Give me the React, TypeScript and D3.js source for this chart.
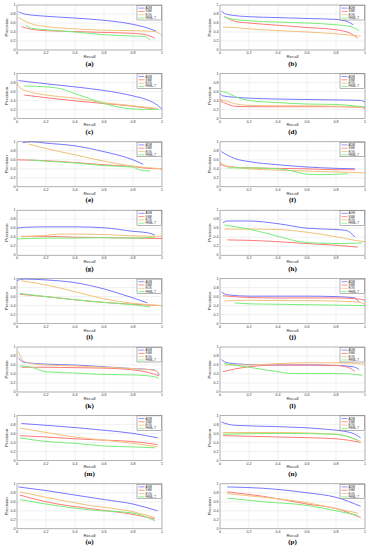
import React from 'react'
import * as d3 from 'd3'

type Pt = [number, number]

// legend / series
const methods = ['ADM', 'SSM', 'EOS', 'FEML-T']
const colors = ['#7878ff', '#ff7a7a', '#f2c27c', '#78ee78']
const captions = ['(a)', '(b)', '(c)', '(d)', '(e)', '(f)', '(g)', '(h)', '(i)', '(j)', '(k)', '(l)', '(m)', '(n)', '(o)', '(p)']
const ticks = [0, 0.2, 0.4, 0.6, 0.8, 1]

// each panel: [ADM, SSM, EOS, FEML-T] as [recall, precision]
const panelA: Pt[][] = [
  [[0.01, 0.85], [0.05, 0.8], [0.2, 0.75], [0.4, 0.71], [0.6, 0.66], [0.8, 0.57], [0.9, 0.49], [0.96, 0.42]],
  [[0.03, 0.52], [0.1, 0.46], [0.2, 0.43], [0.4, 0.41], [0.6, 0.39], [0.8, 0.37], [0.9, 0.33], [0.95, 0.26]],
  [[0.01, 0.72], [0.1, 0.58], [0.2, 0.52], [0.4, 0.47], [0.6, 0.44], [0.8, 0.43], [0.95, 0.41], [1, 0.32]],
  [[0.06, 0.55], [0.1, 0.48], [0.2, 0.45], [0.4, 0.4], [0.6, 0.34], [0.8, 0.31], [0.88, 0.3], [0.92, 0.22]],
]
const panelB: Pt[][] = [
  [[0.01, 0.86], [0.05, 0.79], [0.2, 0.74], [0.4, 0.72], [0.6, 0.7], [0.8, 0.68], [0.88, 0.63], [0.92, 0.56]],
  [[0.03, 0.75], [0.1, 0.64], [0.2, 0.6], [0.4, 0.55], [0.6, 0.5], [0.8, 0.45], [0.9, 0.37], [0.95, 0.26]],
  [[0.02, 0.51], [0.1, 0.5], [0.2, 0.47], [0.4, 0.43], [0.6, 0.4], [0.8, 0.36], [0.9, 0.33], [0.97, 0.31]],
  [[0.03, 0.73], [0.1, 0.68], [0.2, 0.65], [0.4, 0.62], [0.6, 0.6], [0.8, 0.56], [0.9, 0.52], [0.96, 0.43]],
]
const panelC: Pt[][] = [
  [[0.01, 0.84], [0.2, 0.77], [0.4, 0.7], [0.6, 0.62], [0.8, 0.5], [0.9, 0.41], [0.97, 0.29], [1, 0.2]],
  [[0.05, 0.52], [0.2, 0.46], [0.4, 0.39], [0.6, 0.33], [0.8, 0.27], [0.95, 0.21]],
  [[0.0, 0.78], [0.02, 0.68], [0.1, 0.58], [0.2, 0.52], [0.4, 0.45], [0.6, 0.35], [0.8, 0.28], [0.97, 0.22]],
  [[0.05, 0.72], [0.2, 0.7], [0.3, 0.66], [0.4, 0.55], [0.5, 0.44], [0.6, 0.33], [0.7, 0.25], [0.8, 0.21], [0.9, 0.2], [0.98, 0.2]],
]
const panelD: Pt[][] = [
  [[0.0, 0.55], [0.02, 0.5], [0.1, 0.47], [0.2, 0.45], [0.4, 0.43], [0.6, 0.42], [0.8, 0.41], [0.97, 0.4], [1, 0.36]],
  [[0.0, 0.39], [0.05, 0.32], [0.1, 0.27], [0.2, 0.26], [0.4, 0.26], [0.6, 0.26], [0.8, 0.26], [0.95, 0.25], [1, 0.24]],
  [[0.0, 0.42], [0.05, 0.38], [0.1, 0.33], [0.2, 0.29], [0.4, 0.28], [0.6, 0.28], [0.8, 0.27], [0.95, 0.26], [1, 0.22]],
  [[0.0, 0.6], [0.05, 0.57], [0.1, 0.49], [0.2, 0.4], [0.4, 0.35], [0.6, 0.32], [0.8, 0.31], [0.95, 0.27], [1, 0.25]],
]
const panelE: Pt[][] = [
  [[0.04, 0.98], [0.1, 1.0], [0.2, 0.97], [0.4, 0.91], [0.6, 0.78], [0.8, 0.6], [0.87, 0.5]],
  [[0.0, 0.6], [0.2, 0.58], [0.4, 0.54], [0.6, 0.49], [0.8, 0.45], [0.9, 0.41], [1, 0.4]],
  [[0.08, 0.95], [0.2, 0.85], [0.4, 0.71], [0.6, 0.57], [0.8, 0.46], [1, 0.4]],
  [[0.08, 0.6], [0.2, 0.57], [0.4, 0.53], [0.6, 0.47], [0.8, 0.44], [0.84, 0.38], [0.92, 0.35]],
]
const panelF: Pt[][] = [
  [[0.01, 0.78], [0.1, 0.63], [0.2, 0.56], [0.4, 0.49], [0.6, 0.44], [0.8, 0.41], [0.93, 0.4]],
  [[0.0, 0.5], [0.05, 0.45], [0.2, 0.42], [0.4, 0.41], [0.6, 0.4], [0.8, 0.38], [0.93, 0.38]],
  [[0.0, 0.55], [0.05, 0.46], [0.2, 0.4], [0.4, 0.37], [0.6, 0.35], [0.8, 0.33], [1, 0.31]],
  [[0.05, 0.42], [0.2, 0.42], [0.4, 0.4], [0.5, 0.35], [0.6, 0.28], [0.7, 0.27], [0.88, 0.29]],
]
const panelG: Pt[][] = [
  [[0.0, 0.6], [0.05, 0.62], [0.2, 0.63], [0.4, 0.63], [0.6, 0.61], [0.8, 0.53], [0.9, 0.5], [0.95, 0.45]],
  [[0.03, 0.42], [0.2, 0.42], [0.4, 0.4], [0.6, 0.39], [0.8, 0.38], [1, 0.37]],
  [[0.03, 0.41], [0.2, 0.44], [0.3, 0.47], [0.6, 0.46], [0.8, 0.43], [1, 0.42]],
  [[0.0, 0.36], [0.2, 0.38], [0.4, 0.38], [0.6, 0.39], [0.8, 0.38], [0.95, 0.4]],
]
const panelH: Pt[][] = [
  [[0.02, 0.72], [0.05, 0.76], [0.2, 0.76], [0.4, 0.7], [0.6, 0.6], [0.8, 0.57], [0.87, 0.55], [0.9, 0.5], [0.93, 0.4]],
  [[0.05, 0.34], [0.2, 0.33], [0.4, 0.3], [0.6, 0.26], [0.8, 0.22], [0.95, 0.18]],
  [[0.03, 0.58], [0.2, 0.58], [0.4, 0.57], [0.6, 0.51], [0.8, 0.41], [0.95, 0.32], [1, 0.3]],
  [[0.03, 0.67], [0.2, 0.58], [0.4, 0.42], [0.55, 0.3], [0.6, 0.28], [0.8, 0.26], [0.98, 0.27]],
]
const panelI: Pt[][] = [
  [[0.0, 0.96], [0.05, 0.99], [0.2, 0.97], [0.4, 0.91], [0.6, 0.77], [0.8, 0.57], [0.9, 0.46]],
  [[0.02, 0.65], [0.2, 0.6], [0.4, 0.53], [0.6, 0.47], [0.8, 0.43], [1, 0.4]],
  [[0.03, 0.95], [0.2, 0.86], [0.4, 0.71], [0.6, 0.55], [0.8, 0.45], [1, 0.4]],
  [[0.02, 0.67], [0.2, 0.6], [0.4, 0.53], [0.6, 0.47], [0.8, 0.42], [0.92, 0.37]],
]
const panelJ: Pt[][] = [
  [[0.01, 0.7], [0.05, 0.64], [0.2, 0.61], [0.4, 0.61], [0.6, 0.61], [0.8, 0.6], [0.93, 0.57], [0.96, 0.47]],
  [[0.02, 0.62], [0.2, 0.58], [0.4, 0.57], [0.6, 0.57], [0.8, 0.57], [0.95, 0.55], [1, 0.52]],
  [[0.03, 0.5], [0.2, 0.52], [0.4, 0.51], [0.6, 0.51], [0.8, 0.5], [0.95, 0.48], [1, 0.43]],
  [[0.1, 0.46], [0.2, 0.44], [0.4, 0.43], [0.6, 0.42], [0.8, 0.41], [1, 0.4]],
]
const panelK: Pt[][] = [
  [[0.01, 0.75], [0.05, 0.66], [0.2, 0.62], [0.4, 0.6], [0.6, 0.56], [0.8, 0.52], [0.95, 0.49], [0.98, 0.38]],
  [[0.03, 0.55], [0.2, 0.55], [0.4, 0.54], [0.6, 0.53], [0.8, 0.49], [0.9, 0.44], [0.98, 0.36]],
  [[0.01, 0.9], [0.04, 0.7], [0.1, 0.63], [0.2, 0.6], [0.4, 0.58], [0.6, 0.55], [0.8, 0.52], [0.95, 0.48], [0.98, 0.4]],
  [[0.02, 0.58], [0.1, 0.55], [0.2, 0.45], [0.4, 0.42], [0.6, 0.39], [0.8, 0.38], [0.95, 0.34], [0.98, 0.3]],
]
const panelL: Pt[][] = [
  [[0.01, 0.72], [0.05, 0.65], [0.2, 0.61], [0.4, 0.6], [0.6, 0.6], [0.8, 0.59], [0.92, 0.56], [0.96, 0.5]],
  [[0.02, 0.45], [0.1, 0.51], [0.2, 0.56], [0.4, 0.6], [0.6, 0.6], [0.8, 0.59], [0.88, 0.55], [0.93, 0.46]],
  [[0.03, 0.6], [0.2, 0.6], [0.4, 0.63], [0.6, 0.65], [0.8, 0.65], [1, 0.62]],
  [[0.03, 0.63], [0.2, 0.55], [0.4, 0.45], [0.5, 0.41], [0.6, 0.41], [0.8, 0.41], [0.9, 0.4], [0.98, 0.37]],
]
const panelM: Pt[][] = [
  [[0.03, 0.82], [0.2, 0.78], [0.4, 0.73], [0.6, 0.67], [0.8, 0.6], [0.97, 0.5]],
  [[0.02, 0.55], [0.2, 0.52], [0.4, 0.48], [0.6, 0.45], [0.8, 0.42], [0.97, 0.35]],
  [[0.02, 0.72], [0.2, 0.62], [0.4, 0.52], [0.6, 0.45], [0.8, 0.38], [0.97, 0.3]],
  [[0.02, 0.5], [0.2, 0.42], [0.4, 0.38], [0.6, 0.32], [0.8, 0.3], [0.95, 0.28]],
]
const panelN: Pt[][] = [
  [[0.01, 0.85], [0.1, 0.78], [0.4, 0.75], [0.7, 0.7], [0.9, 0.62], [0.97, 0.5]],
  [[0.02, 0.55], [0.4, 0.52], [0.8, 0.48], [0.97, 0.4]],
  [[0.02, 0.62], [0.4, 0.62], [0.8, 0.58], [0.97, 0.42]],
  [[0.02, 0.58], [0.4, 0.6], [0.8, 0.58], [0.95, 0.45]],
]
const panelO: Pt[][] = [
  [[0.01, 0.93], [0.2, 0.85], [0.4, 0.75], [0.6, 0.65], [0.8, 0.55], [0.97, 0.4]],
  [[0.02, 0.75], [0.2, 0.6], [0.5, 0.45], [0.8, 0.32], [0.95, 0.22]],
  [[0.02, 0.82], [0.2, 0.7], [0.5, 0.52], [0.8, 0.38], [0.95, 0.25]],
  [[0.02, 0.65], [0.2, 0.55], [0.5, 0.42], [0.8, 0.35], [0.95, 0.18]],
]
const panelP: Pt[][] = [
  [[0.05, 0.93], [0.3, 0.9], [0.6, 0.8], [0.8, 0.7], [0.97, 0.5]],
  [[0.05, 0.82], [0.3, 0.72], [0.6, 0.55], [0.8, 0.45], [0.97, 0.25]],
  [[0.05, 0.78], [0.3, 0.7], [0.6, 0.58], [0.8, 0.45], [0.95, 0.35]],
  [[0.05, 0.68], [0.3, 0.6], [0.6, 0.52], [0.8, 0.4], [0.95, 0.3]],
]

const panels = [panelA, panelB, panelC, panelD, panelE, panelF, panelG, panelH,
  panelI, panelJ, panelK, panelL, panelM, panelN, panelO, panelP]

// layout
const width = 370
const height = 550
const colX = [17, 220]
const plotW = 145
const plotH = 45
const rowTop = (r: number) => 5 + r * 68.4

const fmt = (v: number) => (v === 0 || v === 1 ? String(v) : String(v))

const Panel = ({ data, caption, x0, y0 }: { data: Pt[][]; caption: string; x0: number; y0: number }) => {
  const xScale = d3.scaleLinear().domain([0, 1]).range([x0, x0 + plotW])
  const yScale = d3.scaleLinear().domain([0, 1]).range([y0 + plotH, y0])
  const line = d3
    .line<Pt>()
    .x((d) => xScale(d[0]))
    .y((d) => yScale(d[1]))
    .curve(d3.curveMonotoneX)

  const lx = x0 + plotW - 25
  const ly = y0 + 0.5
  return (
    <g>
      <rect x={x0} y={y0} width={plotW} height={plotH} fill="#fff" />
      {/* grid */}
      {ticks.map((t) => (
        <g key={'g' + t}>
          <line x1={xScale(t)} x2={xScale(t)} y1={y0} y2={y0 + plotH} stroke="#e2e2e2" strokeWidth={0.5} />
          <line x1={x0} x2={x0 + plotW} y1={yScale(t)} y2={yScale(t)} stroke="#e2e2e2" strokeWidth={0.5} />
        </g>
      ))}
      {data.map((s, i) => (
        <path key={i} d={line(s) || ''} fill="none" stroke={colors[i]} strokeWidth={1} />
      ))}
      <rect x={x0} y={y0} width={plotW} height={plotH} fill="none" stroke="#777" strokeWidth={0.5} />
      {/* tick labels */}
      {ticks.map((t) => (
        <text key={'x' + t} x={xScale(t)} y={y0 + plotH + 4.2} fontSize={3.6} textAnchor="middle" fill="#333"
          fontFamily="Liberation Sans, Arial, sans-serif">{fmt(t)}</text>
      ))}
      {ticks.map((t) => (
        <text key={'y' + t} x={x0 - 1.5} y={yScale(t) + 1.2} fontSize={3.6} textAnchor="end" fill="#333"
          fontFamily="Liberation Sans, Arial, sans-serif">{fmt(t)}</text>
      ))}
      <text x={x0 + plotW / 2} y={y0 + plotH + 8} fontSize={4.4} textAnchor="middle" fill="#333"
        fontFamily="Liberation Sans, Arial, sans-serif">Recall</text>
      <text transform={`translate(${x0 - 9.5}, ${y0 + plotH / 2}) rotate(-90)`} fontSize={4.4} textAnchor="middle" fill="#333"
        fontFamily="Liberation Sans, Arial, sans-serif">Precision</text>
      <text x={x0 + plotW / 2} y={y0 + plotH + 15.5} fontSize={7} fontWeight="bold" textAnchor="middle" fill="#000"
        fontFamily="Liberation Serif, Times New Roman, serif">{caption}</text>
      {/* legend */}
      <rect x={lx} y={ly} width={24.5} height={14.5} fill="#fff" stroke="#444" strokeWidth={0.4} />
      {methods.map((m, i) => (
        <g key={m}>
          <line x1={lx + 1.5} x2={lx + 7.5} y1={ly + 2.6 + i * 3.3} y2={ly + 2.6 + i * 3.3} stroke={colors[i]} strokeWidth={0.8} />
          <text x={lx + 8.5} y={ly + 3.6 + i * 3.3} fontSize={2.9} fill="#222"
            fontFamily="Liberation Sans, Arial, sans-serif">{m}</text>
        </g>
      ))}
    </g>
  )
}

export default function App() {
  return (
    <svg width={width} height={height} style={{ position: 'absolute', left: 0, top: 0, background: '#fff' }}>
      <rect width={width} height={height} fill="#fff" />
      {panels.map((p, i) => (
        <Panel key={i} data={p} caption={captions[i]} x0={colX[i % 2]} y0={rowTop(Math.floor(i / 2))} />
      ))}
    </svg>
  )
}
